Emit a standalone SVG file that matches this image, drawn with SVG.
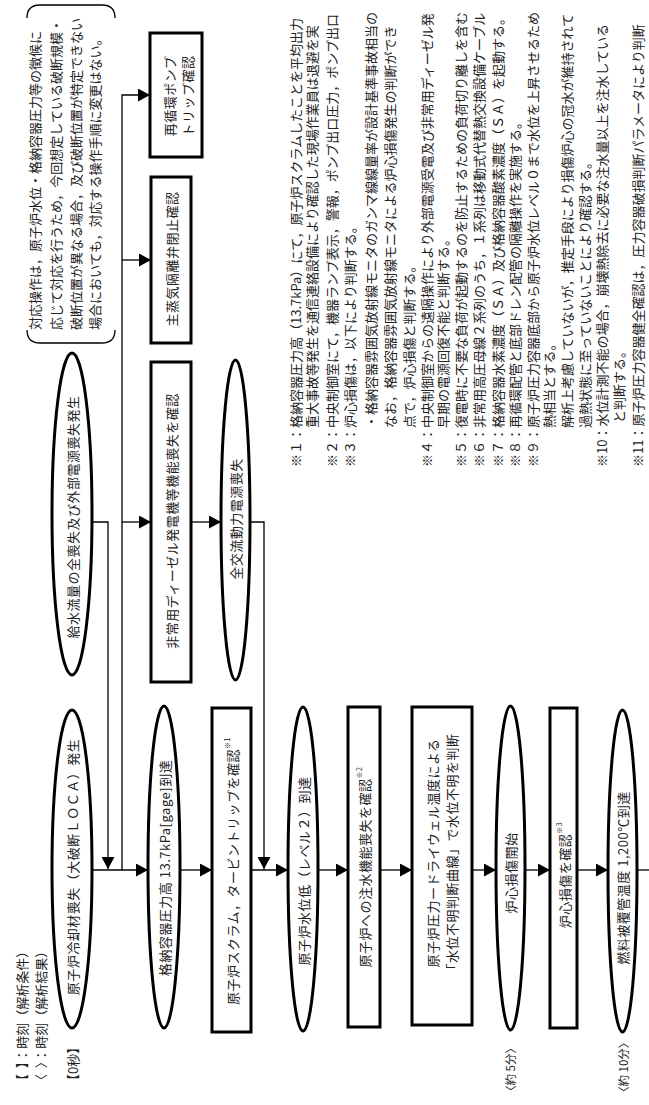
<svg xmlns="http://www.w3.org/2000/svg" width="649" height="1105" viewBox="0 0 649 1105">
<style>
.t{font-family:"Noto Sans CJK JP","Noto Sans",sans-serif;font-size:13px;fill:#222;}
.k{letter-spacing:0.5px;}
.c{text-anchor:middle;dominant-baseline:central;}
.m{dominant-baseline:central;}
.n{fill:#fff;stroke:#000;stroke-width:3;}
.l{fill:none;stroke:#000;stroke-width:1.3;}
.a{marker-end:url(#ah);}
.s{font-size:7px;}
</style>
<defs>
<marker id="ah" markerUnits="userSpaceOnUse" markerWidth="12" markerHeight="13" refX="12" refY="6.5" orient="auto">
<path d="M0,0 L12,6.5 L0,13 z" fill="#000"/>
</marker>
</defs>
<rect width="649" height="1105" fill="#fff"/>
<g transform="translate(0,1105) rotate(-90)">
<g id="legend" class="t m">
<text x="18" y="21">【&#160;&#160;】：時刻（解析条件）</text>
<text x="18" y="40">〈&#160;&#160;〉：時刻（解析結果）</text>
<text x="18" y="72">【0秒】</text>
<text x="8" y="510" style="font-size:11.5px">〈約 5分〉</text>
<text x="7" y="623" style="font-size:11.5px">〈約 10分〉</text>
</g>
<g id="connectors">
<path class="l a" d="M235,92 L235,148"/>
<path class="l a" d="M235,180 L235,212"/>
<path class="l a" d="M235,251 L235,288"/>
<path class="l a" d="M235,318 L235,348"/>
<path class="l a" d="M235,380 L235,412"/>
<path class="l a" d="M235,472 L235,496"/>
<path class="l a" d="M235,525 L235,550"/>
<path class="l a" d="M235,577 L235,608"/>
<path class="l" d="M235,637 L235,652"/>
<path class="l a" d="M235,122 L1010,122 L1010,150"/>
<path class="l a" d="M845,122 L845,151"/>
<path class="l a" d="M583,122 L583,151"/>
<path class="l a" d="M583,191 L583,221"/>
<path class="l a" d="M583,250 L583,264 L236,264"/>
<path class="l a" d="M583,92 L583,108 L236,108"/>
</g>
<g id="n1"><ellipse class="n" cx="236" cy="72" rx="159" ry="20"/><text class="t k c" x="238" y="72">原子炉冷却材喪失（大破断ＬＯＣＡ）発生</text></g>
<g id="n2"><ellipse class="n" cx="238" cy="164" rx="161" ry="16"/><text class="t k c" x="237" y="164">格納容器圧力高 13.7kPa[gage]到達</text></g>
<g id="n3"><rect class="n" x="73" y="212" width="324" height="39"/><text class="t k c" x="234" y="232">原子炉スクラム，タービントリップを確認<tspan class="s" dy="-5">※1</tspan></text></g>
<g id="n4"><ellipse class="n" cx="236" cy="303" rx="162" ry="15"/><text class="t k c" x="234" y="303">原子炉水位低（レベル２）到達</text></g>
<g id="n5"><rect class="n" x="78" y="348" width="320" height="32"/><text class="t k c" x="238" y="364">原子炉への注水機能喪失を確認<tspan class="s" dy="-5">※2</tspan></text></g>
<g id="n6"><rect class="n" x="80" y="412" width="318" height="60"/><text class="t k c" x="252" y="432">原子炉圧力ードライウェル温度による</text><text class="t k c" x="250" y="451">「水位不明判断曲線」で水位不明を判断</text></g>
<g id="n7"><ellipse class="n" cx="237" cy="510.5" rx="162" ry="14.5"/><text class="t k c" x="232" y="510.5">炉心損傷開始</text></g>
<g id="n8"><rect class="n" x="77" y="550" width="320" height="27"/><text class="t k c" x="230" y="564">炉心損傷を確認<tspan class="s" dy="-5">※3</tspan></text></g>
<g id="n9"><ellipse class="n" cx="234" cy="622.5" rx="161" ry="14.5"/><text class="t k c" x="227" y="622.5">燃料被覆管温度 1,200℃到達</text></g>
<g id="n10"><ellipse class="n" cx="591" cy="72" rx="161" ry="20"/><text class="t k c" x="588" y="72">給水流量の全喪失及び外部電源喪失発生</text></g>
<g id="n11"><rect class="n" x="423" y="151" width="320" height="40"/><text class="t k c" x="584" y="171">非常用ディーゼル発電機等機能喪失を確認</text></g>
<g id="n12"><ellipse class="n" cx="585" cy="235.5" rx="160" ry="14.5"/><text class="t k c" x="586" y="235.5">全交流動力電源喪失</text></g>
<g id="n13"><rect class="n" x="762" y="151" width="166" height="40"/><text class="t k c" x="846" y="171">主蒸気隔離弁閉止確認</text></g>
<g id="n14"><rect class="n" x="948" y="150" width="124" height="52"/><text class="t k c" x="1009" y="169">再循環ポンプ</text><text class="t k c" x="1009" y="187.5">トリップ確認</text></g>
<g id="note">
<path class="l" d="M775,27 Q762,27 762,40 L762,102 Q762,115 775,115"/>
<path class="l" d="M1087,27 Q1100,27 1100,40 L1100,102 Q1100,115 1087,115"/>
<g class="t m">
<text x="775" y="34">対応操作は，原子炉水位・格納容器圧力等の徴候に</text>
<text x="775" y="55">応じて対応を行うため，今回想定している破断規模・</text>
<text x="775" y="75">破断位置が異なる場合，及び破断位置が特定できない</text>
<text x="775" y="94">場合においても，対応する操作手順に変更はない。</text>
</g>
</g>
<g id="notes" class="t m">
<text x="638" y="295">※１：格納容器圧力高（13.7kPa）にて，原子炉スクラムしたことを平均出力</text>
<text x="677" y="311">重大事故等発生を通信連絡設備により確認した現場作業員は退避を実</text>
<text x="638" y="331">※２：中央制御室にて，機器ランプ表示，警報，ポンプ出口圧力，ポンプ出口</text>
<text x="638" y="349">※３：炉心損傷は，以下により判断する。</text>
<text x="677" y="370">・格納容器雰囲気放射線モニタのガンマ線線量率が設計基準事故相当の</text>
<text x="677" y="389">なお，格納容器雰囲気放射線モニタによる炉心損傷発生の判断ができ</text>
<text x="677" y="408">点で，炉心損傷と判断する。</text>
<text x="638" y="426">※４：中央制御室からの遠隔操作により外部電源受電及び非常用ディーゼル発</text>
<text x="677" y="442">早期の電源回復不能と判断する。</text>
<text x="638" y="460">※５：復電時に不要な負荷が起動するのを防止するための負荷切り離しを含む</text>
<text x="638" y="478">※６：非常用高圧母線２系列のうち，１系列は移動式代替熱交換設備ケーブル</text>
<text x="638" y="497">※７：格納容器水素濃度（ＳＡ）及び格納容器酸素濃度（ＳＡ）を起動する。</text>
<text x="638" y="514">※８：再循環配管と底部ドレン配管の隔離操作を実施する。</text>
<text x="638" y="532">※９：原子炉圧力容器底部から原子炉水位レベル０まで水位を上昇させるため</text>
<text x="677" y="548">熱相当とする。</text>
<text x="677" y="566">解析上考慮していないが，推定手段により損傷炉心の冠水が維持されて</text>
<text x="677" y="584">過熱状態に至っていないことにより確認する。</text>
<text x="638" y="601">※10：水位計測不能の場合，崩壊熱除去に必要な注水量以上を注水している</text>
<text x="682" y="618">と判断する。</text>
<text x="638" y="637">※11：原子炉圧力容器健全確認は，圧力容器破損判断パラメータにより判断</text>
</g>
</g>
</svg>
